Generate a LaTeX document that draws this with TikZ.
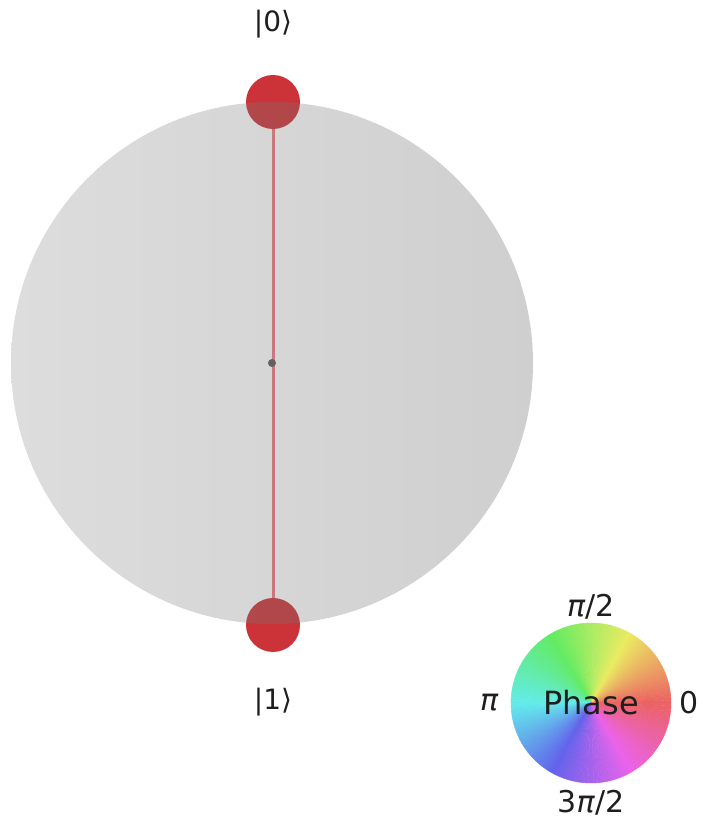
\documentclass[tikz,border=0pt]{standalone}
\usepackage{fontspec}
\setmainfont{DejaVu Sans}
\usetikzlibrary{positioning}
\definecolor{spherelight}{RGB}{142,142,142}
\definecolor{spheredark}{RGB}{96,96,96}
\definecolor{statered}{RGB}{204,51,56}
\definecolor{vecline}{RGB}{240,120,125}
\definecolor{origin}{RGB}{90,90,90}
\definecolor{labeltext}{RGB}{30,30,30}
\tikzset{
    statedot/.style={circle, fill=statered, minimum size=54pt, inner sep=0pt},
    sphere/.style={circle, minimum size=522pt, inner sep=0pt, left color=spherelight, right color=spheredark, fill opacity=0.3},
    ketlabel/.style={font=\fontsize{28}{32}\selectfont, text=labeltext, inner sep=0pt},
    phaselabel/.style={font=\fontsize{30}{36}\selectfont, text=labeltext, inner sep=0pt}
}

\begin{document}
\begin{tikzpicture}[x=1pt, y=1pt, node distance=36pt]
    \useasboundingbox (0,0) rectangle (706,823);

    % state vector, drawn under the sphere
    \coordinate (centre) at (272,460);
    \node (north) [statedot] at (273,721) {};
    \node (south) [statedot] at (273,198) {};
    \draw [vecline, line width=3pt] (north) -- (south);
    \fill [origin] (centre) circle (4);

    % translucent sphere
    \node (bloch) [sphere] at (centre) {};

    \node (ket0) [ketlabel, above=of north] {|0⟩};
    \node (ket1) [ketlabel, below=of south] {|1⟩};

    % phase wheel
    \node (wheel) [circle, minimum size=160pt, inner sep=0pt] at (591,120) {};
    \foreach \a in {0,2,...,358} {
        \pgfmathsetmacro{\hue}{\a/360}
        \edef\hsbspec{\hue,0.58,0.92}
        \convertcolorspec{hsb}{\hsbspec}{rgb}\rgbspec
        \definecolor{wedge}{rgb}{\rgbspec}
        \fill [wedge, draw=wedge, line width=0.4pt] (wheel.center) -- ++(\a:80) arc [start angle=\a, end angle=\a+2, radius=80] -- cycle;
    }
    \node (phase) [font=\fontsize{32}{38}\selectfont, text=labeltext] at (wheel) {Phase};

    \node (halfpi)  [phaselabel, above=3pt of wheel]  {\textit{π}/2};
    \node (threepi) [phaselabel, below=7pt of wheel]  {3\textit{π}/2};
    \node (pi)      [phaselabel, left=12pt of wheel]  {\textit{π}};
    \node (zero)    [phaselabel, right=8pt of wheel]  {0};

\end{tikzpicture}
\end{document}
